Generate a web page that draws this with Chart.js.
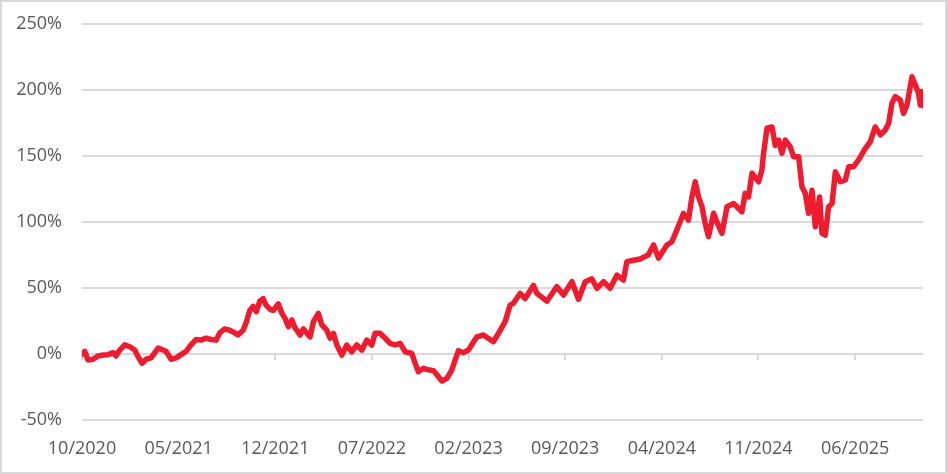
<!DOCTYPE html>
<html>
<head>
<meta charset="utf-8">
<script src="https://cdn.jsdelivr.net/npm/chart.js@4.4.1/dist/chart.umd.min.js"></script>
<style>
    html, body { margin: 0; padding: 0; background: #fff; }
    #wrap {
        width: 947px;
        height: 474px;
        box-sizing: border-box;
        border: 2px solid #d9d9d9;
        position: relative;
    }
    #chart { display: block; }
</style>
</head>
<body>
<div id="wrap"><canvas id="chart" width="943" height="470"></canvas></div>
<script>
// Cumulative return, x = months since 10/2020
const monthOffsets = [
    0, 0.20, 0.43, 0.80, 1.16, 1.52, 1.88, 2.25, 2.46, 2.73,
    3.09, 3.46, 3.82, 4.06, 4.35, 4.64, 5.00, 5.51, 5.87, 6.09,
    6.45, 6.81, 7.17, 7.54, 7.90, 8.26, 8.62, 8.99, 9.35, 9.71,
    9.98, 10.34, 10.70, 11.07, 11.30, 11.67, 11.91, 12.15, 12.39, 12.63,
    12.88, 13.12, 13.33, 13.62, 13.84, 14.22, 14.47, 14.71, 14.95, 15.20,
    15.43, 15.80, 16.04, 16.28, 16.52, 16.76, 17.12, 17.37, 17.73, 17.97,
    18.21, 18.46, 18.82, 19.18, 19.54, 19.91, 20.27, 20.63, 20.99, 21.23,
    21.59, 21.96, 22.32, 22.68, 23.04, 23.41, 23.89, 24.13, 24.37, 24.73,
    25.09, 25.46, 25.82, 26.07, 26.43, 26.79, 27.03, 27.27, 27.63, 27.99,
    28.60, 29.08, 29.80, 30.17, 30.65, 31.01, 31.25, 31.74, 32.10, 32.70,
    32.95, 33.67, 34.40, 34.88, 35.49, 35.96, 36.45, 36.93, 37.30, 37.78,
    38.26, 38.75, 39.22, 39.47, 39.95, 40.43, 41.01, 41.40, 41.76, 42.37,
    42.73, 43.09, 43.57, 43.93, 44.18, 44.42, 44.66, 44.91, 45.14, 45.38,
    45.75, 45.99, 46.36, 46.72, 47.20, 47.80, 48.04, 48.28, 48.53, 49.01,
    49.25, 49.37, 49.62, 49.98, 50.22, 50.46, 50.70, 50.94, 51.30, 51.54,
    51.91, 52.15, 52.39, 52.63, 52.88, 53.12, 53.43, 53.60, 53.84, 54.08,
    54.33, 54.57, 54.93, 55.29, 55.54, 55.89, 56.25, 56.74, 57.10, 57.46,
    57.83, 58.19, 58.43, 58.67, 58.91, 59.28, 59.51, 59.76, 60.12, 60.36,
    60.60, 60.72, 60.85, 60.92
];

const returnPct = [
    0, 2, -4.5, -4, -1.5, -0.8, -0.5, 1, -1.5, 3,
    7, 5.5, 3, -2, -7, -4, -3, 4.5, 3, 2,
    -4, -3, -0.5, 2, 7, 11, 10.5, 12, 11, 10.5,
    16, 19, 18, 16, 14.5, 18, 24.5, 33, 36, 32,
    40, 42, 37, 34, 33, 38, 31, 27, 20.7, 25.8,
    19.7, 14.4, 19, 15.9, 13, 24.5, 30.8, 22, 18, 11.9,
    15.7, 6.8, -0.8, 6.8, 1.7, 6.8, 3, 10.6, 6.8, 15.7,
    15.7, 11.9, 8.1, 6.8, 8.1, 1.7, 0.5, -7, -13.4, -10.8,
    -12, -12.6, -17.2, -20.5, -18.4, -12, -4.5, 2.5, 1, 3,
    13, 14.4, 9.3, 15.7, 24.5, 37, 38.4, 46, 42, 52,
    46, 40, 51, 44.7, 54.8, 41.5, 54.8, 57, 49.8, 54.8,
    49.8, 59.8, 56, 70, 71, 72, 75, 82.6, 72.7, 82.6,
    85, 94, 106.6, 101.5, 119, 130.5, 119, 111.6, 99, 88.9,
    106.6, 100, 91.4, 111.6, 114, 107.8, 121.7, 119, 136.9, 130.5,
    139.4, 152, 171, 172, 158, 162, 152, 162, 157, 149.5,
    149.5, 126.7, 121.7, 106.6, 124, 96.4, 119, 91.4, 90, 111.6,
    114, 138, 130.5, 131.8, 141.9, 141.9, 147, 155.8, 160.8, 172,
    166, 169.7, 174.8, 190, 195, 192.4, 182.3, 188.6, 210, 203.8,
    197.5, 188.6, 198.8, 188
];

const tickMonths = [0, 7, 14, 21, 28, 35, 42, 49, 56];
const tickLabels = ['10/2020', '05/2021', '12/2021', '07/2022', '02/2023', '09/2023', '04/2024', '11/2024', '06/2025'];

const LINE_RED = '#ED1C2E';
const GRID_GREY = '#d9d9d9';
const TEXT_GREY = '#595959';

// small tick marks hanging under the 0% line, like the source chart
const zeroTicks = {
    id: 'zeroTicks',
    beforeDatasetsDraw(chart) {
        const x = chart.scales.x;
        const y = chart.scales.y;
        const y0 = y.getPixelForValue(0);
        const ctx = chart.ctx;
        ctx.save();
        ctx.strokeStyle = GRID_GREY;
        ctx.lineWidth = 2;
        ctx.beginPath();
        tickMonths.forEach(m => {
            const px = Math.round(x.getPixelForValue(m));
            ctx.moveTo(px, y0);
            ctx.lineTo(px, y0 + 6);
        });
        ctx.stroke();
        ctx.restore();
    }
};

const points = monthOffsets.map((m, i) => ({ x: m, y: returnPct[i] }));

new Chart(document.getElementById('chart'), {
    type: 'line',
    data: {
        datasets: [{
            data: points,
            borderColor: LINE_RED,
            borderWidth: 5.5,
            pointRadius: 0,
            tension: 0,
            borderJoinStyle: 'round',
            borderCapStyle: 'round',
            fill: false
        }]
    },
    options: {
        responsive: false,
        animation: false,
        layout: {
            padding: { top: 22, right: 22, bottom: 0, left: 0 }
        },
        plugins: {
            legend: { display: false },
            tooltip: { enabled: false }
        },
        scales: {
            x: {
                type: 'linear',
                min: 0,
                max: 60.92,
                grid: { display: false, drawTicks: false },
                border: { display: false },
                afterBuildTicks: scale => {
                    scale.ticks = tickMonths.map(v => ({ value: v }));
                },
                afterFit: scale => { scale.height = 52; },
                ticks: {
                    autoSkip: false,
                    maxRotation: 0,
                    padding: 18,
                    color: TEXT_GREY,
                    font: { family: 'Open Sans', size: 18 },
                    callback: v => tickLabels[tickMonths.indexOf(v)]
                }
            },
            y: {
                min: -50,
                max: 250,
                grid: { color: GRID_GREY, lineWidth: 2, drawTicks: false },
                border: { display: false },
                afterFit: scale => {
                    scale.width = 80;
                    // tick padding is horizontal here, keep it out of the vertical overflow
                    scale.paddingTop = 11;
                    scale.paddingBottom = 11;
                },
                ticks: {
                    stepSize: 50,
                    padding: 20,
                    color: TEXT_GREY,
                    font: { family: 'Open Sans', size: 18 },
                    callback: v => v + '%'
                }
            }
        }
    },
    plugins: [zeroTicks]
});
</script>
</body>
</html>
